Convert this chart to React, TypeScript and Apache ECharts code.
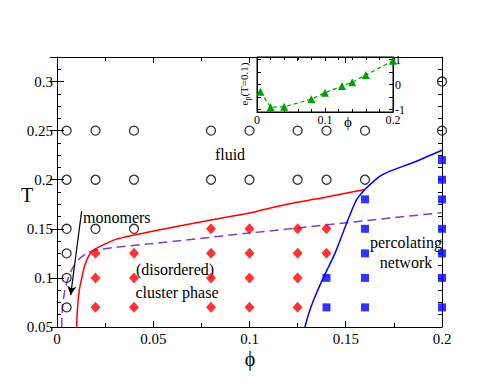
import React, { useEffect, useRef } from 'react';
import * as echarts from 'echarts';

const FONT = '"Liberation Serif", "DejaVu Serif", serif';

// main panel: state points (phi, T)
const fluidPoints: number[][] = [
  [0.005, 0.07], [0.005, 0.1], [0.005, 0.125], [0.005, 0.15], [0.005, 0.2], [0.005, 0.25],
  [0.02, 0.15], [0.02, 0.2], [0.02, 0.25],
  [0.04, 0.15], [0.04, 0.2], [0.04, 0.25],
  [0.08, 0.2], [0.08, 0.25],
  [0.1, 0.2], [0.1, 0.25],
  [0.125, 0.2], [0.125, 0.25],
  [0.14, 0.2], [0.14, 0.25],
  [0.16, 0.2], [0.16, 0.25],
  [0.2, 0.25], [0.2, 0.3],
];
const clusterPoints: number[][] = [
  [0.02, 0.07], [0.02, 0.1], [0.02, 0.125],
  [0.04, 0.07], [0.04, 0.1], [0.04, 0.125],
  [0.08, 0.07], [0.08, 0.1], [0.08, 0.125], [0.08, 0.15],
  [0.1, 0.07], [0.1, 0.1], [0.1, 0.125], [0.1, 0.15],
  [0.125, 0.07], [0.125, 0.1], [0.125, 0.125], [0.125, 0.15],
  [0.14, 0.125], [0.14, 0.15],
];
const networkPoints: number[][] = [
  [0.14, 0.07], [0.14, 0.1],
  [0.16, 0.07], [0.16, 0.1], [0.16, 0.125], [0.16, 0.15], [0.16, 0.18],
  [0.2, 0.07], [0.2, 0.1], [0.2, 0.125], [0.2, 0.15], [0.2, 0.18], [0.2, 0.2], [0.2, 0.22],
];

// boundary lines (phi, T)
const clusterLine: number[][] = [
  [0.0102, 0.05], [0.0107, 0.0705], [0.0116, 0.0876], [0.0128, 0.0996], [0.0145, 0.1132],
  [0.0163, 0.1217], [0.018, 0.1268], [0.0197, 0.1293], [0.0241, 0.1337], [0.031, 0.1395],
  [0.0483, 0.147], [0.08, 0.159], [0.1, 0.166], [0.116, 0.1735], [0.14, 0.1825], [0.16, 0.19],
];
const percolationLine: number[][] = [
  [0.0024, 0.05], [0.0029, 0.0705], [0.0041, 0.0876], [0.0058, 0.0995], [0.0085, 0.1114],
  [0.0119, 0.12], [0.0154, 0.1251], [0.0189, 0.1278], [0.031, 0.1313], [0.0483, 0.1347],
  [0.1, 0.1457], [0.2, 0.1665],
];
const networkLine: number[][] = [
  [0.1288, 0.05], [0.131, 0.065], [0.1332, 0.077], [0.1383, 0.1], [0.1444, 0.125],
  [0.1505, 0.156], [0.1557, 0.18], [0.16, 0.19], [0.1626, 0.195], [0.1678, 0.2037],
  [0.173, 0.2088], [0.185, 0.2175], [0.2, 0.23],
];
const monomerArrow: number[][] = [[0.0128, 0.168], [0.0071, 0.0825]];

// inset: e_p(T=0.1) vs phi
const insetPhi = [0.005, 0.02, 0.04, 0.08, 0.1, 0.125, 0.14, 0.16, 0.2];
const insetEnergy = [-0.29, -0.91, -0.89, -0.59, -0.33, -0.06, 0.09, 0.38, 0.95];

const mainYLabels = [0.05, 0.1, 0.15, 0.2, 0.25, 0.3];
const insetYTicks = [-1, -0.5, 0, 0.5, 1];
const insetYLabels = [-1, 0, 1];

const fmt = (v: number) => String(+v.toFixed(4));

export default function App() {
  const ref = useRef<HTMLDivElement>(null);
  useEffect(() => {
    const chart = echarts.init(ref.current!, null, { renderer: 'svg' });
    const black = '#000';
    const line = { show: true, onZero: false, lineStyle: { color: black, width: 1 } };
    const noSplit = { show: false };
    const isMajorY = (v: number) => mainYLabels.some((m) => Math.abs(m - v) < 1e-6);
    const option: any = {
      animation: false,
      textStyle: { fontFamily: FONT },
      grid: [
        { left: 57, right: 56, top: 57, bottom: 58 },
        { left: 257, right: 105, top: 57, bottom: 273, show: true, backgroundColor: '#fff', borderColor: black, borderWidth: 1 },
      ],
      xAxis: [
        {
          gridIndex: 0, type: 'value', position: 'bottom', min: 0, max: 0.2, interval: 0.05,
          axisLine: line, splitLine: noSplit,
          axisTick: { inside: true, length: 6, lineStyle: { color: black } },
          minorTick: { show: true, splitNumber: 2, length: 4, lineStyle: { color: black } },
          axisLabel: { color: black, fontSize: 15, fontFamily: FONT, margin: 4, formatter: (v: number) => fmt(v) },
        },
        {
          gridIndex: 0, type: 'value', position: 'top', min: 0, max: 0.2, interval: 0.05,
          axisLine: line, splitLine: noSplit,
          axisTick: { inside: true, length: 6, lineStyle: { color: black } },
          minorTick: { show: true, splitNumber: 2, length: 4, lineStyle: { color: black } },
          axisLabel: { show: false },
        },
        {
          gridIndex: 1, type: 'value', position: 'bottom', min: 0, max: 0.2, interval: 0.1,
          axisLine: line, splitLine: noSplit,
          axisTick: { inside: true, length: 4, lineStyle: { color: black } },
          minorTick: { show: true, splitNumber: 5, length: 3, lineStyle: { color: black } },
          axisLabel: { color: black, fontSize: 12, fontFamily: FONT, margin: 2, formatter: (v: number) => fmt(v) },
        },
        {
          gridIndex: 1, type: 'value', position: 'top', min: 0, max: 0.2, interval: 0.1,
          axisLine: line, splitLine: noSplit,
          axisTick: { inside: true, length: 4, lineStyle: { color: black } },
          minorTick: { show: true, splitNumber: 5, length: 3, lineStyle: { color: black } },
          axisLabel: { show: false },
        },
      ],
      yAxis: [
        {
          gridIndex: 0, type: 'value', position: 'left', min: 0.05, max: 0.325, interval: 0.0125,
          axisLine: line, splitLine: noSplit,
          axisTick: { inside: true, length: 4, lineStyle: { color: black } },
          axisLabel: { color: black, fontSize: 15, fontFamily: FONT, margin: 4, formatter: (v: number) => (isMajorY(v) ? fmt(v) : '') },
        },
        {
          gridIndex: 0, type: 'value', position: 'left', min: 0.05, max: 0.325, interval: 0.05,
          axisLine: { show: false }, splitLine: noSplit,
          axisTick: { inside: true, length: 7, lineStyle: { color: black } },
          axisLabel: { show: false },
        },
        {
          gridIndex: 0, type: 'value', position: 'right', min: 0.05, max: 0.325, interval: 0.0125,
          axisLine: line, splitLine: noSplit,
          axisTick: { inside: true, length: 4, lineStyle: { color: black } },
          axisLabel: { show: false },
        },
        {
          gridIndex: 0, type: 'value', position: 'right', min: 0.05, max: 0.325, interval: 0.05,
          axisLine: { show: false }, splitLine: noSplit,
          axisTick: { inside: true, length: 7, lineStyle: { color: black } },
          axisLabel: { show: false },
        },
        {
          gridIndex: 1, type: 'value', position: 'left', min: -1.1, max: 1.1,
          axisLine: line, splitLine: noSplit,
          axisTick: { inside: true, length: 4, customValues: insetYTicks, lineStyle: { color: black } },
          axisLabel: { show: false },
        },
        {
          gridIndex: 1, type: 'value', position: 'right', min: -1.1, max: 1.1,
          axisLine: line, splitLine: noSplit,
          axisTick: { inside: true, length: 4, customValues: insetYTicks, lineStyle: { color: black } },
          axisLabel: { color: black, fontSize: 12, fontFamily: FONT, margin: 2, customValues: insetYLabels, formatter: (v: number) => fmt(v) },
        },
      ],
      series: [
        {
          type: 'line', xAxisIndex: 0, yAxisIndex: 0, data: clusterLine, showSymbol: false, smooth: 0.25,
          lineStyle: { color: '#ff0000', width: 1.5 }, z: 2,
        },
        {
          type: 'line', xAxisIndex: 0, yAxisIndex: 0, data: percolationLine, showSymbol: false, smooth: 0.25,
          lineStyle: { color: '#7b3fcf', width: 1.5, type: [9, 5] }, z: 2,
        },
        {
          type: 'line', xAxisIndex: 0, yAxisIndex: 0, data: networkLine, showSymbol: false, smooth: 0.25,
          lineStyle: { color: '#0000ff', width: 1.5 }, z: 2,
        },
        {
          type: 'scatter', xAxisIndex: 0, yAxisIndex: 0, data: fluidPoints, symbol: 'circle', symbolSize: 9,
          itemStyle: { color: 'rgba(0,0,0,0)', borderColor: black, borderWidth: 1.3 }, z: 3,
          markLine: {
            silent: true, symbol: ['none', 'arrow'], symbolSize: [7, 9],
            label: { show: false },
            lineStyle: { color: black, width: 1.2, type: 'solid' },
            data: [[{ coord: monomerArrow[0] }, { coord: monomerArrow[1] }]],
          },
        },
        {
          type: 'scatter', xAxisIndex: 0, yAxisIndex: 0, data: clusterPoints, symbol: 'diamond', symbolSize: [10, 11],
          itemStyle: { color: '#ff0000' }, z: 3,
        },
        {
          type: 'scatter', xAxisIndex: 0, yAxisIndex: 0, data: networkPoints, symbol: 'rect', symbolSize: 8,
          itemStyle: { color: '#0000ff' }, z: 3,
        },
        {
          type: 'line', xAxisIndex: 2, yAxisIndex: 5,
          data: insetPhi.map((p, i) => [p, insetEnergy[i]]),
          symbol: 'triangle', symbolSize: 8, showSymbol: true,
          itemStyle: { color: '#00a000' },
          lineStyle: { color: '#00a000', width: 1.2, type: [4, 3] }, z: 4,
        },
      ],
      graphic: [
        { type: 'text', x: 27, y: 195, style: { text: 'T', font: `20px ${FONT}`, fill: black, align: 'center', verticalAlign: 'middle' } },
        { type: 'text', x: 250, y: 359, style: { text: 'ϕ', font: `20px ${FONT}`, fill: black, align: 'center', verticalAlign: 'middle' } },
        { type: 'text', x: 348, y: 122, style: { text: 'ϕ', font: `15px ${FONT}`, fill: black, align: 'center', verticalAlign: 'middle' } },
        {
          type: 'text', x: 244, y: 84, rotation: Math.PI / 2,
          style: {
            text: '{a|e}{b|p}{a|(T=0.1)}', align: 'center', verticalAlign: 'middle',
            rich: {
              a: { fontSize: 11, fontFamily: FONT, fill: black, color: black, lineHeight: 14 },
              b: { fontSize: 8, fontFamily: FONT, fill: black, color: black, lineHeight: 14, verticalAlign: 'bottom', padding: [6, 0, 0, 0] },
            },
          },
        },
        { type: 'text', x: 230, y: 154, style: { text: 'fluid', font: `16px ${FONT}`, fill: black, align: 'center', verticalAlign: 'middle' } },
        { type: 'text', x: 83, y: 217, style: { text: 'monomers', font: `16px ${FONT}`, fill: black, align: 'left', verticalAlign: 'middle' } },
        { type: 'text', x: 175, y: 269, style: { text: '(disordered)', font: `16px ${FONT}`, fill: black, align: 'center', verticalAlign: 'middle' } },
        { type: 'text', x: 177, y: 292, style: { text: 'cluster phase', font: `16px ${FONT}`, fill: black, align: 'center', verticalAlign: 'middle' } },
        { type: 'text', x: 406, y: 242, style: { text: 'percolating', font: `16px ${FONT}`, fill: black, align: 'center', verticalAlign: 'middle' } },
        { type: 'text', x: 406, y: 262, style: { text: 'network', font: `16px ${FONT}`, fill: black, align: 'center', verticalAlign: 'middle' } },
      ],
    };
    chart.setOption(option);
    return () => chart.dispose();
  }, []);
  return <div ref={ref} style={{ position: 'absolute', left: 0, top: 0, width: 498, height: 385 }} />;
}
